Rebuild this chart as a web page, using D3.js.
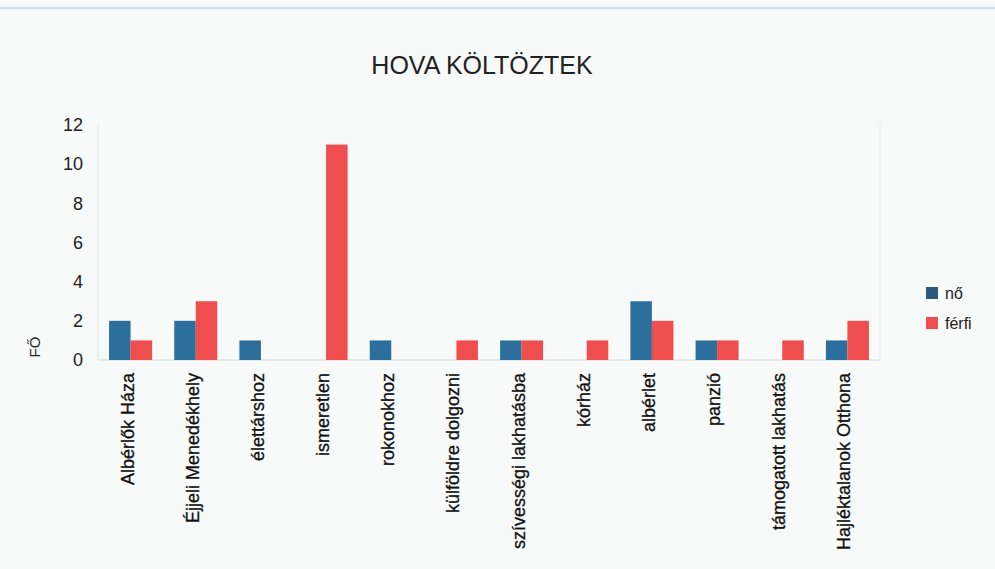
<!DOCTYPE html>
<html>
<head>
<meta charset="utf-8">
<script src="https://cdn.jsdelivr.net/npm/d3@7"></script>
<style>
  body { margin: 0; background: #f8f9f9; }
  svg { display: block; font-family: "Liberation Sans", Arial, sans-serif; }
</style>
</head>
<body>
<svg id="chart"></svg>
<script>
const categories = [
  'Albérlők Háza', 'Éjjeli Menedékhely', 'élettárshoz', 'ismeretlen', 'rokonokhoz',
  'külföldre dolgozni', 'szívességi lakhatásba', 'kórház', 'albérlet', 'panzió',
  'támogatott lakhatás', 'Hajléktalanok Otthona'
];
const seriesNames = ['nő', 'férfi'];
const noValues = [2, 2, 1, 0, 1, 0, 1, 0, 3, 1, 0, 1];
const ferfiValues = [1, 3, 0, 11, 0, 1, 1, 1, 2, 1, 1, 2];
const yTicks = [0, 2, 4, 6, 8, 10, 12];

const width = 995;
const height = 569;
const padLeft = 98, padRight = 880, padTop = 125, baseY = 360;
const colors = ['#2d6f9c', '#ef4e4e'];

const svg = d3.select('#chart').attr('width', width).attr('height', height);

// scanned page artefact: faint blue rule at the top
svg.append('line')
  .attr('x1', 0).attr('x2', width).attr('y1', 8).attr('y2', 8)
  .attr('stroke', '#9cc6e0').attr('stroke-width', 1);

const x0 = d3.scaleBand().domain(categories).range([padLeft, padRight])
  .paddingInner(0.34).paddingOuter(0.17);
const x1 = d3.scaleBand().domain(seriesNames).range([0, x0.bandwidth()]);
const y = d3.scaleLinear().domain([0, 12]).range([baseY, padTop]);

// plot frame (faint)
svg.append('line').attr('x1', padLeft).attr('x2', padLeft).attr('y1', padTop).attr('y2', baseY)
  .attr('stroke', '#e0e0e0');
svg.append('line').attr('x1', padRight).attr('x2', padRight).attr('y1', padTop).attr('y2', baseY)
  .attr('stroke', '#e6e6e6');
svg.append('line').attr('x1', padLeft).attr('x2', padRight).attr('y1', baseY).attr('y2', baseY)
  .attr('stroke', '#d8d8d8');

const rows = categories.map((c, i) => ({ cat: c, values: [noValues[i], ferfiValues[i]] }));

const groups = svg.append('g').selectAll('g')
  .data(rows)
  .enter()
  .append('g')
  .attr('transform', (d) => 'translate(' + x0(d.cat) + ',0)');

groups.selectAll('rect')
  .data((d) => d.values.map((v, j) => ({ key: seriesNames[j], v: v, j: j })))
  .enter()
  .append('rect')
  .attr('x', (d) => x1(d.key))
  .attr('width', x1.bandwidth())
  .attr('y', (d) => y(d.v))
  .attr('height', (d) => baseY - y(d.v))
  .attr('fill', (d) => colors[d.j]);

// y axis
const yAxis = d3.axisLeft(y).tickValues(yTicks).tickSize(0).tickPadding(15);
const gy = svg.append('g').attr('transform', 'translate(' + padLeft + ',0)').call(yAxis);
gy.select('.domain').remove();
gy.selectAll('text').style('font-size', '18px').attr('fill', '#222');

// x axis
const xAxis = d3.axisBottom(x0).tickSize(0);
const gx = svg.append('g').attr('transform', 'translate(0,' + baseY + ')').call(xAxis);
gx.select('.domain').remove();
gx.selectAll('text')
  .attr('transform', 'rotate(-90)')
  .attr('text-anchor', 'end')
  .attr('x', -13)
  .attr('y', 0)
  .attr('dy', '3px')
  .style('font-size', '18px')
  .attr('fill', '#111')
  .attr('stroke', '#111')
  .attr('stroke-width', 0.3);

// title
svg.append('text')
  .attr('x', 482).attr('y', 74)
  .attr('text-anchor', 'middle')
  .style('font-size', '25px')
  .attr('fill', '#222')
  .text('HOVA KÖLTÖZTEK');

// y label
svg.append('text')
  .attr('transform', 'translate(40,347) rotate(-90)')
  .attr('text-anchor', 'middle')
  .style('font-size', '15px')
  .attr('fill', '#222')
  .text('FŐ');

// legend
const legend = svg.append('g').attr('transform', 'translate(926,287)');
seriesNames.forEach((name, i) => {
  const row = legend.append('g').attr('transform', 'translate(0,' + i * 30 + ')');
  row.append('rect').attr('width', 12).attr('height', 12)
    .attr('fill', i === 0 ? '#2a5a7e' : colors[1]);
  row.append('text').attr('x', 19).attr('y', 12)
    .style('font-size', '16px').attr('fill', '#222').text(name);
});
</script>
</body>
</html>
